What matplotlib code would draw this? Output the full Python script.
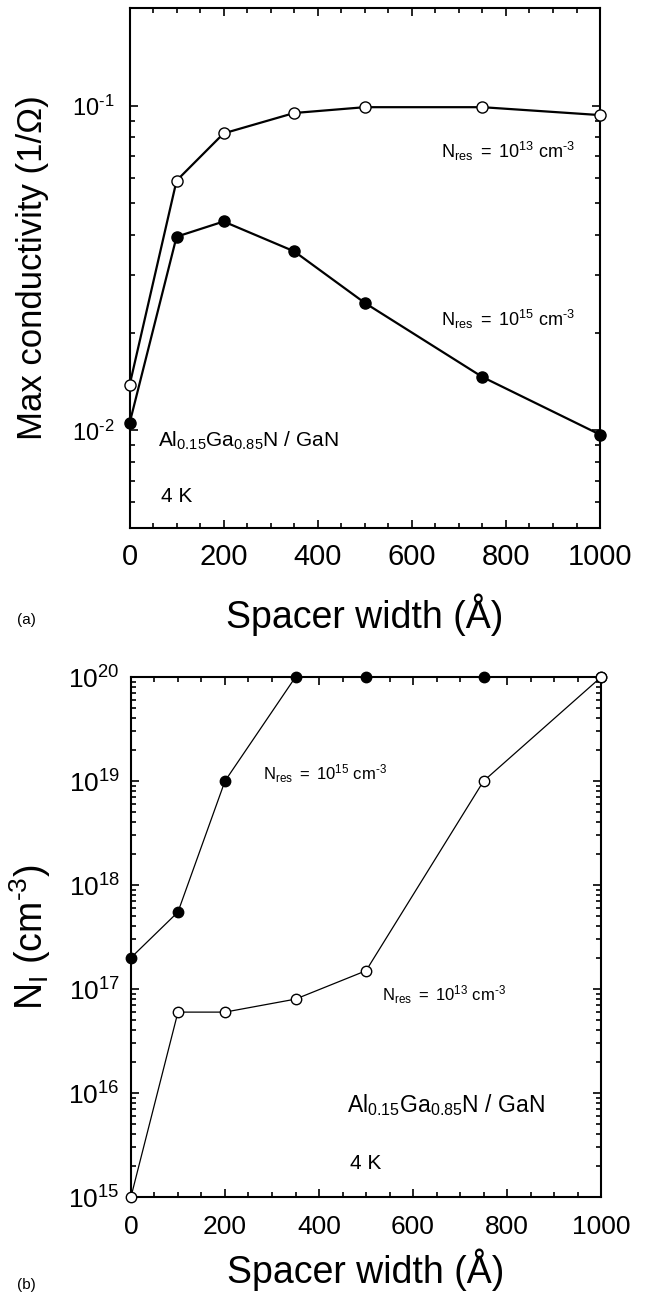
import numpy as np
import matplotlib
matplotlib.use('Agg')
import matplotlib.pyplot as plt
from matplotlib.ticker import (LogLocator, MultipleLocator, NullFormatter,
                               FixedLocator, FuncFormatter)

plt.rcParams['font.family'] = ['Liberation Sans', 'DejaVu Sans']
plt.rcParams['mathtext.fontset'] = 'custom'
plt.rcParams['mathtext.rm'] = 'Liberation Sans'
plt.rcParams['mathtext.it'] = 'Liberation Sans:italic'
plt.rcParams['mathtext.bf'] = 'Liberation Sans:bold'

# spacer widths (Angstrom) shared by both panels
spacer = [0, 100, 200, 350, 500, 750, 1000]

# (a) maximum conductivity, 1/Ohm
sigma_res13 = [0.01375, 0.0588, 0.0822, 0.095, 0.099, 0.099, 0.0936]
sigma_res15 = [0.0105, 0.0395, 0.044, 0.0356, 0.0247, 0.0146, 0.0097]

# (b) optimum ionized impurity density N_I, cm^-3
ni_res15 = [2e17, 5.5e17, 1e19, 1e20, 1e20, 1e20, 1e20]
ni_res13 = [1e15, 6e16, 6e16, 8e16, 1.5e17, 1e19, 1e20]

x_ticks = [0, 200, 400, 600, 800, 1000]
label_res13 = r'$\mathregular{N_{res}\ =\ 10^{13}\ cm^{\text{-}3}}$'
label_res15 = r'$\mathregular{N_{res}\ =\ 10^{15}\ cm^{\text{-}3}}$'
label_alloy = r'$\mathregular{Al_{0.15}Ga_{0.85}N\ /\ GaN}$'


def pow10_label(v, pos):
    # decade labels written with a plain hyphen for negative exponents
    e = int(round(np.log10(v)))
    exp = str(e) if e >= 0 else r'\text{-}' + str(-e)
    return r'$\mathregular{10^{%s}}$' % exp


def style_axes(ax, xtick_size, ytick_size, xpad, ypad):
    for sp in ax.spines.values():
        sp.set_linewidth(1.5)
    ax.set_xlim(0, 1000)
    ax.xaxis.set_major_locator(FixedLocator(x_ticks))
    ax.xaxis.set_minor_locator(MultipleLocator(50))
    ax.yaxis.set_major_formatter(FuncFormatter(pow10_label))
    ax.yaxis.set_minor_formatter(NullFormatter())
    ax.tick_params(which='both', direction='in', top=True, right=True, width=1.2)
    ax.tick_params(which='major', length=6)
    ax.tick_params(which='minor', length=3.5)
    ax.tick_params(axis='x', labelsize=xtick_size, pad=xpad)
    ax.tick_params(axis='y', labelsize=ytick_size, pad=ypad)


fig = plt.figure(figsize=(6.45, 13), dpi=100)

# ---- (a) conductivity ----
ax1 = fig.add_axes([0.2008, 0.5938, 0.7295, 0.4])
ax1.set_yscale('log')
ax1.set_ylim(0.005, 0.2)
ax1.yaxis.set_major_locator(LogLocator(base=10, numticks=10))
ax1.yaxis.set_minor_locator(LogLocator(base=10, subs=range(2, 10), numticks=20))
ax1.plot(spacer, sigma_res13, '-o', color='black', lw=1.6, ms=8,
         mfc='white', mec='black', mew=1.0, clip_on=False, zorder=3)
ax1.plot(spacer, sigma_res15, '-o', color='black', lw=1.6, ms=8,
         mfc='black', mec='black', mew=1.0, clip_on=False, zorder=3)
style_axes(ax1, 21, 17, 11, 11)
ax1.set_xlabel('Spacer width (Å)', fontsize=27)
ax1.set_ylabel('Max conductivity (1/Ω)', fontsize=25)
ax1.xaxis.set_label_coords(0.5, -0.125)
ax1.yaxis.set_label_coords(-0.171, 0.5)
ax1.text(663, 0.069, label_res13, fontsize=13, va='baseline')
ax1.text(663, 0.021, label_res15, fontsize=13, va='baseline')
ax1.text(60, 0.00889, label_alloy, fontsize=15, va='baseline')
ax1.text(66, 0.00602, '4 K', fontsize=15, va='baseline')
fig.text(17 / 645, 1 - 620 / 1300, '(a)', fontsize=11, va='center')

# ---- (b) ionized impurity density ----
ax2 = fig.add_axes([0.203, 0.0792, 0.729, 0.4])
ax2.set_yscale('log')
ax2.set_ylim(1e15, 1e20)
ax2.yaxis.set_major_locator(LogLocator(base=10, numticks=10))
ax2.yaxis.set_minor_locator(LogLocator(base=10, subs=range(2, 10), numticks=20))
ax2.plot(spacer, ni_res15, '-o', color='black', lw=0.9, ms=7.5,
         mfc='black', mec='black', mew=1.0, clip_on=False, zorder=3)
ax2.plot(spacer, ni_res13, '-o', color='black', lw=0.9, ms=7.5,
         mfc='white', mec='black', mew=1.0, clip_on=False, zorder=3)
style_axes(ax2, 19, 19, 13, 8)
ax2.set_xlabel('Spacer width (Å)', fontsize=27)
ax2.set_ylabel(r'$\mathregular{N_I\ (cm^{\text{-}3})}$', fontsize=27)
ax2.xaxis.set_label_coords(0.5, -0.098)
ax2.yaxis.set_label_coords(-0.166, 0.5)
ax2.text(281, 1.03e19, label_res15, fontsize=12, va='baseline')
ax2.text(533, 7.8e16, label_res13, fontsize=12, va='baseline')
ax2.text(459, 6.6e15, label_alloy, fontsize=16.5, va='baseline')
ax2.text(465, 1.88e15, '4 K', fontsize=15, va='baseline')
fig.text(17 / 645, 1 - 1285 / 1300, '(b)', fontsize=11, va='center')

fig.savefig('out.png', dpi=100)
